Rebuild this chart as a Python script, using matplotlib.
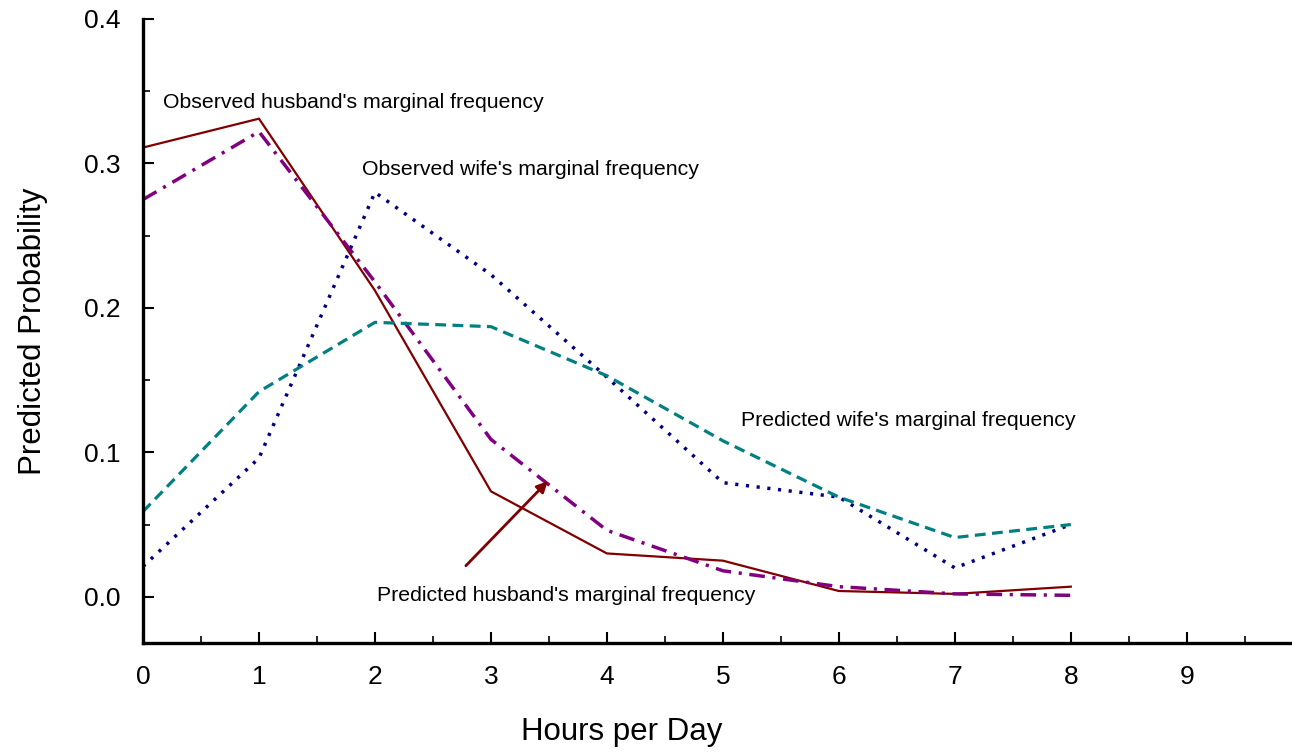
import matplotlib
matplotlib.use("Agg")
import matplotlib.pyplot as plt
from matplotlib.ticker import MultipleLocator, FormatStrFormatter

plt.rcParams['font.family'] = ['Liberation Sans', 'DejaVu Sans']

hours = [0, 1, 2, 3, 4, 5, 6, 7, 8]
obs_husband = [0.311, 0.331, 0.212, 0.073, 0.030, 0.025, 0.004, 0.002, 0.007]
pred_husband = [0.275, 0.322, 0.218, 0.109, 0.046, 0.018, 0.007, 0.002, 0.001]
obs_wife = [0.021, 0.096, 0.280, 0.223, 0.152, 0.079, 0.069, 0.020, 0.050]
pred_wife = [0.059, 0.142, 0.190, 0.187, 0.153, 0.108, 0.069, 0.041, 0.050]

fig = plt.figure(figsize=(12.92, 7.54), dpi=100)
ax = fig.add_axes([143/1292, 1-643/754, 1147/1292, 624/754])

ax.plot(hours, obs_husband, color='#800000', lw=1.6, ls='-')
ax.plot(hours, pred_husband, color='#800080', lw=2.5, ls=(0, (4.5, 2.2, 0.9, 2.2)))
ax.plot(hours, obs_wife, color='#000080', lw=2.5, ls=(0, (0.9, 2.2)))
ax.plot(hours, pred_wife, color='#008080', lw=2.3, ls=(0, (3.4, 2.0)))

ax.set_xlim(0, 9.89)
ax.set_ylim(-0.032, 0.4)
ax.xaxis.set_major_locator(MultipleLocator(1))
ax.xaxis.set_minor_locator(MultipleLocator(0.5))
ax.yaxis.set_major_locator(MultipleLocator(0.1))
ax.yaxis.set_minor_locator(MultipleLocator(0.05))
ax.yaxis.set_major_formatter(FormatStrFormatter('%.1f'))

for s in ['top', 'right']:
    ax.spines[s].set_visible(False)
for s in ['left', 'bottom']:
    ax.spines[s].set_linewidth(2.4)

ax.tick_params(which='major', direction='in', length=8, width=1.5, labelsize=19)
ax.tick_params(which='minor', direction='in', length=5, width=1.2)
ax.tick_params(axis='x', which='major', pad=16)
ax.tick_params(axis='y', which='major', pad=16)

ax.set_xlabel("Hours per Day", fontsize=22.5)
ax.set_ylabel("Predicted Probability", fontsize=22.5)
ax.xaxis.set_label_coords((622-143)/1147, -0.119)
ax.yaxis.set_label_coords(-0.083, 0.5)

fs = 15.3
ax.text(0.172, 0.342, "Observed husband's marginal frequency", fontsize=fs, va='center', ha='left')
ax.text(1.888, 0.296, "Observed wife's marginal frequency", fontsize=fs, va='center', ha='left')
ax.text(5.155, 0.122, "Predicted wife's marginal frequency", fontsize=fs, va='center', ha='left')
ax.text(2.017, 0.0007, "Predicted husband's marginal frequency", fontsize=fs, va='center', ha='left')

ax.annotate("", xy=(3.49, 0.080), xytext=(2.784, 0.0215),
            arrowprops=dict(arrowstyle='-|>', color='#800000', lw=2.0,
                            mutation_scale=16, shrinkA=0, shrinkB=0))

fig.savefig("out.png", dpi=100)
